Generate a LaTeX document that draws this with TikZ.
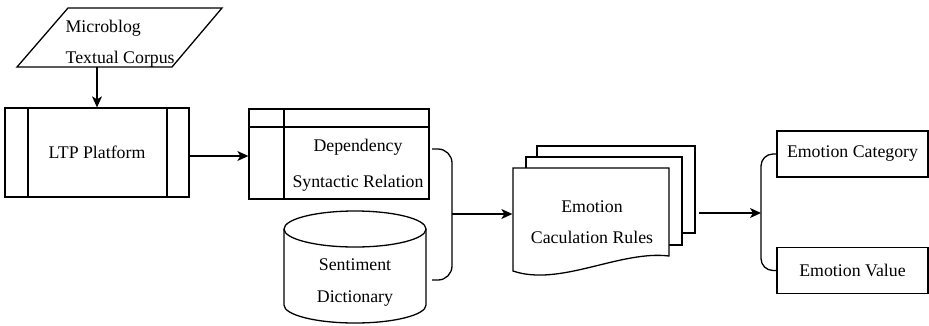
\documentclass[tikz,border=0pt]{standalone}
\usepackage{fontspec}
\setmainfont{Liberation Serif}
\newfontfamily\figserif{Liberation Serif}
\usetikzlibrary{arrows.meta}
\tikzset{
  txt/.style={font=\figserif\fontsize{17.8}{31}\selectfont, align=center, inner sep=0pt},
  arr/.style={-{Stealth[length=11pt,width=10pt,inset=3pt]}},
  boxed/.style={draw, inner sep=0pt},
}
\begin{document}
\begin{tikzpicture}[x=1pt,y=-1pt,line width=1.3pt]
\useasboundingbox (0,0) rectangle (929,325);
% corpus parallelogram
\draw (17,67) -- (68,8) -- (222,8) -- (172,67) -- cycle;
\node[txt, align=left, anchor=west] (corpus) at (65,43.5) {Microblog\\Textual Corpus};
\coordinate (corpusb) at (97,67);
% LTP
\node[boxed, txt, minimum width=184pt, minimum height=89pt] (ltp) at (97,152.5) {LTP Platform};
\draw (28,108) -- (28,197);
\draw (167,108) -- (167,197);
\draw[arr] (corpusb) -- (ltp.north);
% dependency
\node[boxed, minimum width=180pt, minimum height=90pt] (dep) at (339,154) {};
\draw (249,127) -- (429,127);
\draw (284,109) -- (284,199);
\node[txt, font=\figserif\fontsize{17.8}{36}\selectfont] (deptext) at (358,165) {Dependency\\Syntactic Relation};
\coordinate (ltpout) at (ltp.east |- 0,156);
\draw[arr] (ltpout) -- (ltpout -| dep.west);
% cylinder
\draw (284,229) -- (284,305) arc[start angle=180,end angle=0,x radius=71,y radius=18] -- (426,229);
\draw (355,229) ellipse[x radius=71, y radius=18];
\node[txt, font=\figserif\fontsize{17.8}{32}\selectfont] (dict) at (355,283) {Sentiment\\Dictionary};
% brace 1
\coordinate (b1) at (452,214);
\draw[rounded corners=14pt] (432,149) -- (452,149) -- (452,280) -- (432,280);
% document stack
\draw[fill=white] (537,146) rectangle (695,233);
\draw[fill=white] (526,157) rectangle (682,245);
\draw[fill=white] (513,168) -- (669,168) -- (669,256) .. controls (620,250) and (560,287) .. (513,271) -- cycle;
\node[inner sep=0pt, minimum width=156pt, minimum height=103pt] (rules) at (591,219.5) {};
\node[txt] (rulestext) at (592,222.5) {Emotion\\Caculation Rules};
\draw[arr] (b1) -- (b1 -| rules.west);
% outputs
\coordinate (rulese) at (699,213);
\coordinate (b2) at (761,213);
\draw[arr] (rulese) -- (b2);
\node[boxed, txt, minimum width=151pt, minimum height=46pt] (cat) at (852.5,154) {Emotion Category};
\node[boxed, txt, minimum width=151pt, minimum height=46pt] (val) at (852.5,270.5) {Emotion Value};
\draw[rounded corners=12pt] (cat.west) -| (b2) |- (val.west);
\end{tikzpicture}
\end{document}
